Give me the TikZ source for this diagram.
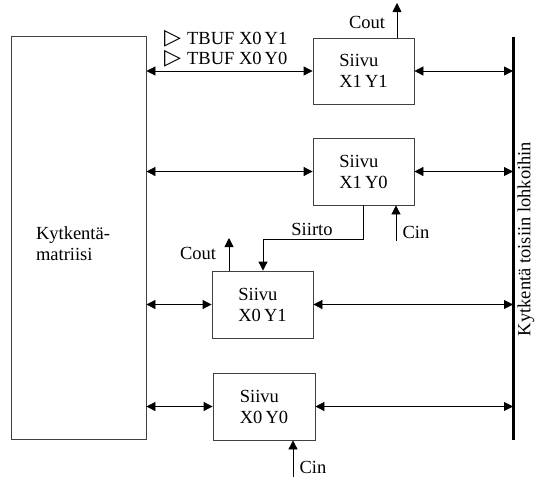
\documentclass[tikz,border=0pt]{standalone}
\usepackage{fontspec}
\setmainfont{Liberation Serif}
\newfontfamily\symfont{DejaVu Sans}
\usetikzlibrary{arrows.meta}
\begin{document}
\begin{tikzpicture}[x=1pt,y=-1pt,
  txt/.style={font=\fontsize{18.5}{21}\selectfont, inner sep=0pt},
  blk/.style={draw=black!75, line width=0.8pt, rectangle, inner sep=0pt, align=left,
     font=\fontsize{18.5}{21}\selectfont},
  conn/.style={line width=0.8pt, black},
  tip/.style={-{Triangle[length=9pt,width=9pt]}},
  tips/.style={{Triangle[length=9pt,width=9pt]}-{Triangle[length=9pt,width=9pt]}}]
\useasboundingbox (0,0) rectangle (538,477);
% boxes
\node[blk, minimum width=135pt, minimum height=403pt] (mat) at (78.5,237.5) {};
\node[txt, align=left] (mattxt) at (73,244) {Kytkentä-\\matriisi};
\node[blk, minimum width=101pt, minimum height=66pt] (x1y1) at (363.5,71) {Siivu\\X1\,Y1};
\node[blk, minimum width=101pt, minimum height=67pt] (x1y0) at (363.5,171.5) {Siivu\\X1\,Y0};
\node[blk, minimum width=101pt, minimum height=67pt] (x0y1) at (262.5,304.5) {Siivu\\X0\,Y1};
\node[blk, minimum width=102pt, minimum height=67pt] (x0y0) at (264,406.5) {Siivu\\X0\,Y0};
% bus
\coordinate (bustop) at (513,37);
\coordinate (busbot) at (513,440);
\draw[line width=3pt, black] (bustop) -- (busbot);
\node[txt, rotate=90] (bustxt) at (526,239) {Kytkentä toisiin lohkoihin};
% left connections
\draw[conn, tips] (mat.east |- x1y1.west) -- (x1y1.west);
\draw[conn, tips] (mat.east |- x1y0.west) -- (x1y0.west);
\draw[conn, tips] (mat.east |- x0y1.west) -- (x0y1.west);
\draw[conn, tips] (mat.east |- x0y0.west) -- (x0y0.west);
% right connections
\draw[conn, tips] (x1y1.east) -- (x1y1.east -| bustop);
\draw[conn, tips] (x1y0.east) -- (x1y0.east -| bustop);
\draw[conn, tips] (x0y1.east) -- (x0y1.east -| bustop);
\draw[conn, tips] (x0y0.east) -- (x0y0.east -| bustop);
% TBUF labels
\node[txt, anchor=west] (tbuf1) at (164,39) {{\symfont\fontsize{22}{21}\selectfont ▷}\hspace{6pt}TBUF X0\,Y1};
\node[txt, anchor=west] (tbuf0) at (164,59) {{\symfont\fontsize{22}{21}\selectfont ▷}\hspace{6pt}TBUF X0\,Y0};
% Cout X1Y1
\coordinate (cout1) at (397,3);
\draw[conn, tip] (x1y1.north -| cout1) -- (cout1);
\node[txt] (cout1lbl) at (367,22) {Cout};
% Cin X1Y0
\coordinate (cin1) at (396,241);
\draw[conn, tip] (cin1) -- (x1y0.south -| cin1);
\node[txt] (cin1lbl) at (416,232) {Cin};
% Siirto
\coordinate (s1) at (363,239);
\coordinate (s2) at (263,239);
\draw[conn, tip] (x1y0.south -| s1) -- (s1) -- (s2) -- (x0y1.north -| s2);
\node[txt] (siirto) at (312,229) {Siirto};
% Cout X0Y1
\coordinate (cout0) at (229,238);
\draw[conn, tip] (x0y1.north -| cout0) -- (cout0);
\node[txt] (cout0lbl) at (198,253) {Cout};
% Cin X0Y0
\coordinate (cin0) at (293,477);
\draw[conn, tip] (cin0) -- (x0y0.south -| cin0);
\node[txt] (cin0lbl) at (313,467) {Cin};
\end{tikzpicture}
\end{document}
